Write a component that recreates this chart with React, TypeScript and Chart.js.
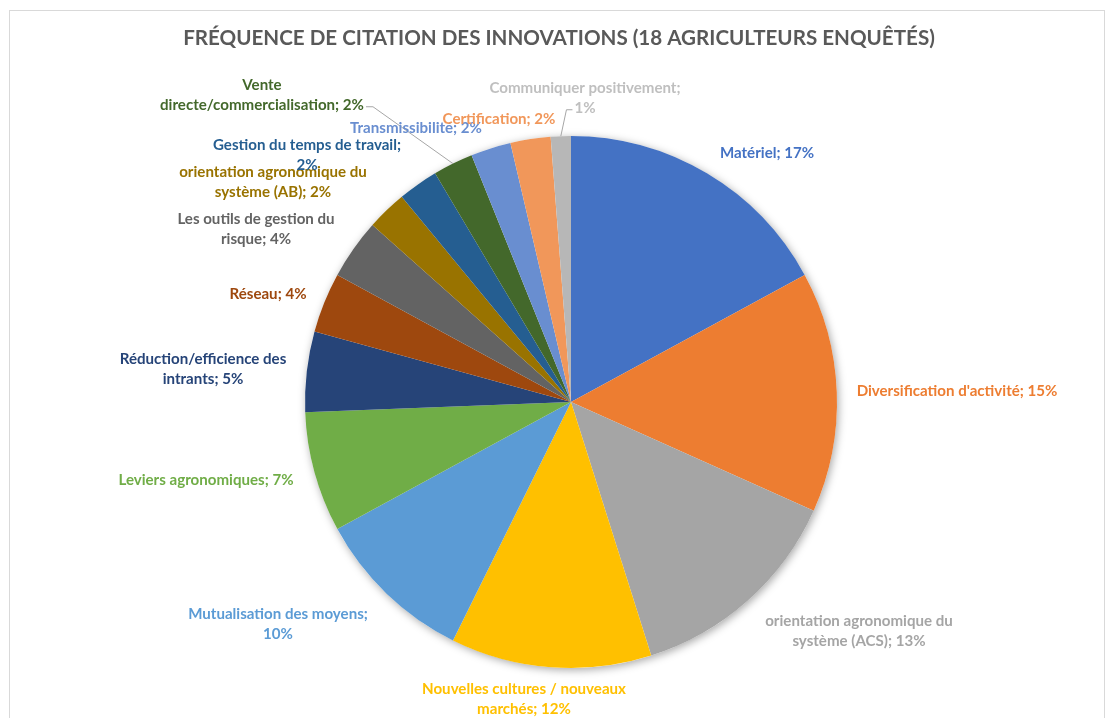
import React, { useEffect, useRef } from "react";
import { Chart, registerables } from "chart.js";

Chart.register(...registerables);

const TITLE = "FRÉQUENCE DE CITATION DES INNOVATIONS (18 AGRICULTEURS ENQUÊTÉS)";

const categories = [
  "Matériel",
  "Diversification d'activité",
  "orientation agronomique du système (ACS)",
  "Nouvelles cultures / nouveaux marchés",
  "Mutualisation des moyens",
  "Leviers agronomiques",
  "Réduction/efficience des intrants",
  "Réseau",
  "Les outils de gestion du risque",
  "orientation agronomique du système (AB)",
  "Gestion du temps de travail",
  "Vente directe/commercialisation",
  "Transmissibilité",
  "Certification",
  "Communiquer positivement",
];

const citationCounts = [14, 12, 11, 10, 8, 6, 4, 3, 3, 2, 2, 2, 2, 2, 1];

// label text as wrapped in the original ({p} = percentage)
const labelLines = [
  ["Matériel; {p}"],
  ["Diversification d'activité; {p}"],
  ["orientation agronomique du", "système (ACS); {p}"],
  ["Nouvelles cultures / nouveaux", "marchés; {p}"],
  ["Mutualisation des moyens;", "{p}"],
  ["Leviers agronomiques; {p}"],
  ["Réduction/efficience des", "intrants; {p}"],
  ["Réseau; {p}"],
  ["Les outils de gestion du", "risque; {p}"],
  ["orientation agronomique du", "système (AB); {p}"],
  ["Gestion du temps de travail;", "{p}"],
  ["Vente", "directe/commercialisation; {p}"],
  ["Transmissibilité; {p}"],
  ["Certification; {p}"],
  ["Communiquer positivement;", "{p}"],
];

const sliceColors = [
  "#4472C4", "#ED7D31", "#A5A5A5", "#FFC000", "#5B9BD5", "#70AD47",
  "#264478", "#9E480E", "#636363", "#997300", "#255E91", "#43682B",
  "#698ED0", "#F1975A", "#B7B7B7",
];

const labelColors = [
  "#4472C4", "#ED7D31", "#A5A5A5", "#FFC000", "#5B9BD5", "#70AD47",
  "#264478", "#9E480E", "#636363", "#997300", "#255E91", "#43682B",
  "#698ED0", "#F1975A", "#BFBFBF",
];

// label block centres, offsets from pie centre (layout only)
const labelOffsets: [number, number][] = [
  [196, -249], [386, -11], [288, 229], [-47, 297], [-293, 222],
  [-365, 78], [-368, -33], [-303, -108], [-315, -173], [-298, -220],
  [-264, -247], [-309, -307], [-155, -274], [-72, -283], [14, -304],
];

// leader lines: slice index -> which text line and which side it leaves from
const leaders: Record<number, { line: number; side: "left" | "right" }> = {
  11: { line: 1, side: "right" },
  14: { line: 1, side: "left" },
};

const LABEL_FONT = "bold 15.1px Lato, 'Open Sans', sans-serif";
const LINE_H = 19.5;

const pieShadow = {
  id: "pieShadow",
  beforeDatasetsDraw(chart: any) {
    const meta = chart.getDatasetMeta(0);
    const a = meta.data[0];
    if (!a) return;
    const ctx = chart.ctx;
    ctx.save();
    ctx.beginPath();
    ctx.arc(a.x, a.y, a.outerRadius, 0, Math.PI * 2);
    ctx.shadowColor = "rgba(0,0,0,0.35)";
    ctx.shadowBlur = 9;
    ctx.shadowOffsetX = 1.5;
    ctx.shadowOffsetY = 2;
    ctx.fillStyle = "#ffffff";
    ctx.fill();
    ctx.restore();
  },
};

const pieLabels = {
  id: "pieLabels",
  afterDatasetsDraw(chart: any) {
    const ctx = chart.ctx;
    const meta = chart.getDatasetMeta(0);
    const total = citationCounts.reduce((s, v) => s + v, 0);

    // title
    ctx.save();
    ctx.font = "bold 20.6px Lato, 'Open Sans', sans-serif";
    ctx.fillStyle = "#595959";
    ctx.textAlign = "center";
    ctx.textBaseline = "middle";
    ctx.fillText(TITLE, 559, 38);
    ctx.restore();

    meta.data.forEach((arc: any, i: number) => {
      const pct = Math.round((citationCounts[i] / total) * 100) + "%";
      const lines = labelLines[i].map((l) => l.replace("{p}", pct));
      const cx = arc.x + labelOffsets[i][0];
      const cy = arc.y + labelOffsets[i][1];
      ctx.save();
      ctx.font = LABEL_FONT;
      ctx.textAlign = "center";
      ctx.textBaseline = "middle";
      const top = cy - ((lines.length - 1) * LINE_H) / 2;

      const ld = leaders[i];
      if (ld) {
        const mid = (arc.startAngle + arc.endAngle) / 2;
        const px = arc.x + Math.cos(mid) * arc.outerRadius;
        const py = arc.y + Math.sin(mid) * arc.outerRadius;
        const w = ctx.measureText(lines[ld.line]).width;
        const ly = top + ld.line * LINE_H + 2;
        const sx = ld.side === "right" ? cx + w / 2 + 2 : cx - w / 2 - 2;
        const ex = ld.side === "right" ? sx + 7 : sx - 6;
        ctx.strokeStyle = "#A6A6A6";
        ctx.lineWidth = 1;
        ctx.beginPath();
        ctx.moveTo(sx, ly);
        ctx.lineTo(ex, ly);
        ctx.lineTo(px, py);
        ctx.stroke();
      }

      ctx.fillStyle = labelColors[i];
      lines.forEach((l, k) => ctx.fillText(l, cx, top + k * LINE_H));
      ctx.restore();
    });
  },
};

export default function App() {
  const ref = useRef<HTMLCanvasElement>(null);

  useEffect(() => {
    if (!ref.current) return;
    const chart = new Chart(ref.current, {
      type: "pie",
      data: {
        labels: categories,
        datasets: [
          {
            data: citationCounts,
            backgroundColor: sliceColors,
            borderWidth: 0,
          },
        ],
      },
      options: {
        responsive: false,
        animation: false,
        events: [],
        layout: { padding: { top: 136, bottom: 50, left: 305, right: 273 } },
        plugins: {
          legend: { display: false },
          tooltip: { enabled: false },
          title: { display: false },
        },
      },
      plugins: [pieShadow, pieLabels],
    });
    return () => chart.destroy();
  }, []);

  return (
    <div style={{ position: "absolute", left: 0, top: 0, width: 1110, height: 718, background: "#fff", overflow: "hidden" }}>
      <div
        style={{
          position: "absolute",
          left: 9,
          top: 10,
          width: 1094,
          height: 720,
          border: "1px solid #D9D9D9",
          borderBottom: "none",
        }}
      />
      <canvas ref={ref} width={1110} height={718} style={{ position: "absolute", left: 0, top: 0 }} />
    </div>
  );
}
